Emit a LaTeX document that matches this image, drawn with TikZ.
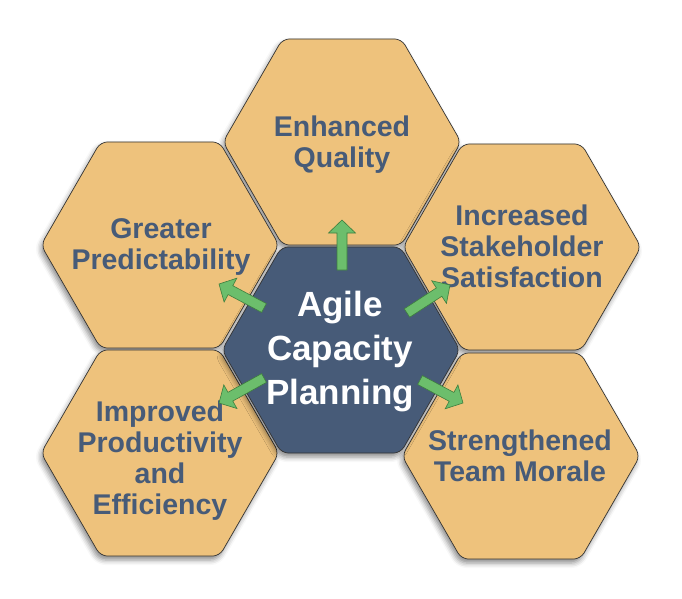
\documentclass[tikz,border=0pt]{standalone}
\usepackage{fontspec}
\setmainfont{Liberation Sans}
\usetikzlibrary{shapes.geometric,shadows.blur,calc}
\definecolor{hexfill}{HTML}{EEC27C}
\definecolor{hexcore}{HTML}{475B78}
\definecolor{hextext}{HTML}{475B78}
\definecolor{arrfill}{HTML}{6CBE6C}
\definecolor{arrline}{HTML}{3E7E3E}
\tikzset{
  hexa/.style={regular polygon, regular polygon sides=6, minimum size=238pt,
    inner sep=0pt, rounded corners=7pt, draw=black!80, line width=0.7pt,
    fill=hexfill,
    blur shadow={shadow xshift=-2pt, shadow yshift=-4pt, shadow blur radius=5pt, shadow opacity=45}},
  corehex/.style={hexa, fill=hexcore},
  lbl/.style={align=center, text=hextext, inner sep=0pt,
    font=\fontsize{28.5}{31}\selectfont\bfseries},
  corelbl/.style={align=center, text=white, inner sep=0pt,
    font=\fontsize{35}{44}\selectfont\bfseries},
  blockarrow/.style={fill=arrfill, draw=arrline, line width=0.6pt, line join=miter}
}
\newcommand\barrow[2]{%
  \coordinate (nk) at ($(#2)!13pt!(#1)$);
  \draw[blockarrow] ($(#1)!5pt!90:(#2)$) -- ($(nk)!5pt!-90:(#1)$) --
    ($(nk)!13.5pt!-90:(#1)$) -- (#2) -- ($(nk)!13.5pt!90:(#1)$) --
    ($(nk)!5pt!90:(#1)$) -- ($(#1)!5pt!-90:(#2)$) -- cycle;}
\begin{document}
\begin{tikzpicture}[x=1pt,y=-1pt]
\useasboundingbox (0,0) rectangle (682,599);
\node[hexa] (q) at (342,142) {};
\node[hexa] (p) at (160,245) {};
\node[hexa] (s) at (522,247) {};
\node[hexa] (e) at (160,453) {};
\node[hexa] (m) at (521,456) {};
\node[corehex] (c) at (341,350) {};
\node[lbl] (qt) at (342,145) {Enhanced\\Quality};
\node[lbl] (pt) at (161,247) {Greater\\Predictability};
\node[lbl] (st) at (522,246) {Increased\\Stakeholder\\Satisfaction};
\node[lbl] (et) at (160,461) {Improved\\Productivity\\and\\Efficiency};
\node[lbl] (mt) at (520,456) {Strengthened\\Team Morale};
\node[corelbl] (ct) at (340,352) {Agile\\Capacity\\Planning};
\coordinate (a1t) at (342,270); \coordinate (a1h) at (342,220);
\coordinate (a2t) at (264,308); \coordinate (a2h) at (219,284);
\coordinate (a3t) at (407,313); \coordinate (a3h) at (450,285);
\coordinate (a4t) at (264,378); \coordinate (a4h) at (219,403);
\coordinate (a5t) at (420,380); \coordinate (a5h) at (463,403);
\barrow{a1t}{a1h}
\barrow{a2t}{a2h}
\barrow{a3t}{a3h}
\barrow{a4t}{a4h}
\barrow{a5t}{a5h}
\end{tikzpicture}
\end{document}
